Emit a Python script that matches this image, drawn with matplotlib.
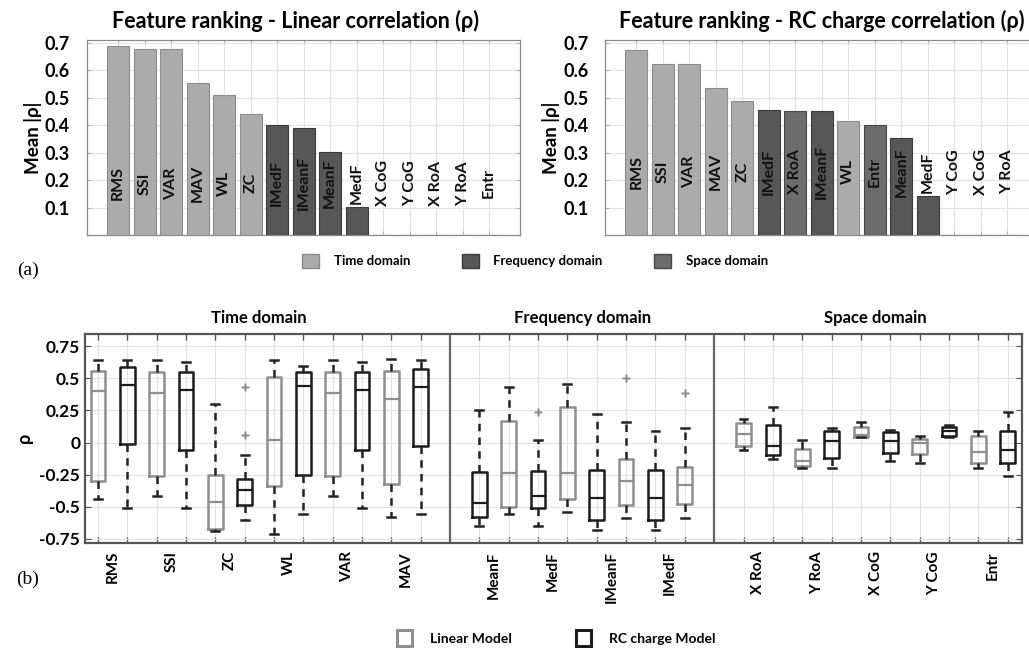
import matplotlib
matplotlib.use('Agg')
import matplotlib.pyplot as plt
from matplotlib.patches import Patch

plt.rcParams['font.family'] = ['Lato', 'DejaVu Sans']
plt.rcParams['font.weight'] = 'bold'

# ---------------- datos (a): ranking de features ----------------
feats_lin = ['RMS', 'SSI', 'VAR', 'MAV', 'WL', 'ZC', 'IMedF', 'IMeanF', 'MeanF', 'MedF',
             'X CoG', 'Y CoG', 'X RoA', 'Y RoA', 'Entr']
vals_lin = [0.688, 0.677, 0.677, 0.553, 0.509, 0.439, 0.402, 0.388, 0.303, 0.102,
            0, 0, 0, 0, 0]
dom_lin = ['T', 'T', 'T', 'T', 'T', 'T', 'F', 'F', 'F', 'F', 'S', 'S', 'S', 'S', 'S']

feats_rc = ['RMS', 'SSI', 'VAR', 'MAV', 'ZC', 'IMedF', 'X RoA', 'IMeanF', 'WL', 'Entr',
            'MeanF', 'MedF', 'Y CoG', 'X CoG', 'Y RoA']
vals_rc = [0.673, 0.624, 0.624, 0.534, 0.489, 0.455, 0.451, 0.451, 0.416, 0.402,
           0.355, 0.141, 0, 0, 0]
dom_rc = ['T', 'T', 'T', 'T', 'T', 'F', 'S', 'F', 'T', 'S', 'F', 'F', 'S', 'S', 'S']

dom_names = ['Time domain', 'Frequency domain', 'Space domain']
dom_keys = ['T', 'F', 'S']

# ---------------- datos (b): boxplots ----------------
feats_b = ['RMS', 'SSI', 'ZC', 'WL', 'VAR', 'MAV',
           'MeanF', 'MedF', 'IMeanF', 'IMedF',
           'X RoA', 'Y RoA', 'X CoG', 'Y CoG', 'Entr']
group_b = ['T'] * 6 + ['F'] * 4 + ['S'] * 5
rc_first = [False] * 6 + [True] * 4 + [False] * 5

lin_low = [-0.44, -0.42, -0.69, -0.71, -0.42, -0.58, -0.56, -0.54, -0.59, -0.59,
           -0.06, -0.20, 0.04, -0.16, -0.20]
lin_q1 = [-0.30, -0.26, -0.67, -0.34, -0.26, -0.32, -0.50, -0.44, -0.49, -0.48,
          -0.03, -0.18, 0.04, -0.09, -0.16]
lin_med = [0.40, 0.39, -0.46, 0.02, 0.39, 0.34, -0.24, -0.24, -0.30, -0.33,
           0.07, -0.14, 0.06, 0.00, -0.07]
lin_q3 = [0.56, 0.55, -0.25, 0.51, 0.55, 0.56, 0.17, 0.28, -0.13, -0.19,
          0.15, -0.05, 0.12, 0.03, 0.05]
lin_high = [0.64, 0.64, 0.30, 0.64, 0.64, 0.65, 0.43, 0.46, 0.16, 0.11,
            0.18, 0.02, 0.16, 0.05, 0.09]
lin_fliers = [[], [], [], [], [], [], [], [], [0.50], [0.39],
              [], [], [], [], []]

rc_low = [-0.51, -0.51, -0.60, -0.56, -0.51, -0.56, -0.65, -0.65, -0.68, -0.68,
          -0.13, -0.20, -0.14, 0.04, -0.26]
rc_q1 = [-0.01, -0.06, -0.49, -0.25, -0.06, -0.03, -0.58, -0.51, -0.60, -0.60,
         -0.10, -0.12, -0.08, 0.05, -0.16]
rc_med = [0.45, 0.41, -0.37, 0.44, 0.41, 0.43, -0.47, -0.42, -0.43, -0.43,
          -0.03, 0.01, 0.01, 0.09, -0.06]
rc_q3 = [0.59, 0.55, -0.28, 0.55, 0.55, 0.57, -0.23, -0.22, -0.21, -0.21,
         0.14, 0.09, 0.08, 0.12, 0.09]
rc_high = [0.64, 0.63, -0.10, 0.60, 0.63, 0.64, 0.25, 0.02, 0.22, 0.09,
           0.28, 0.11, 0.10, 0.14, 0.24]
rc_fliers = [[], [], [0.43, 0.06], [], [], [], [], [0.24], [], [],
             [], [], [], [], []]

y_ticks_b = [-0.75, -0.5, -0.25, 0, 0.25, 0.5, 0.75]
y_ticklabels_b = ['-0.75', '-0.5', '-0.25', '0', '0.25', '0.5', '0.75']

# ---------------- estilo ----------------
col_dom = {'T': '#ababab', 'F': '#575757', 'S': '#6c6c6c'}
edge_dom = {'T': '#8c8c8c', 'F': '#3c3c3c', 'S': '#474747'}
col_lin = '#8e8e8e'
col_rc = '#1c1c1c'
grid_col = '#e2e2e2'
spine_col = '#8a8a8a'

W, H = 1029, 650
fig = plt.figure(figsize=(W / 100, H / 100), dpi=100)


def px_axes(x0, x1, y0, y1):
    return fig.add_axes([x0 / W, 1 - y1 / H, (x1 - x0) / W, (y1 - y0) / H])


def bar_panel(ax, feats, vals, doms, title, ytxt, title_x):
    pos = list(range(1, len(feats) + 1))
    ax.bar(pos, vals, width=0.83, color=[col_dom[d] for d in doms],
           edgecolor=[edge_dom[d] for d in doms], linewidth=0.8, zorder=3)
    for p, f in zip(pos, feats):
        ax.text(p, ytxt, f, rotation=90, ha='center', va='center',
                fontsize=11.5, fontweight='bold', color='#111111', zorder=4)
    ax.set_xlim(-0.18, 16.16)
    ax.set_ylim(0, 0.71)
    ax.set_xticks(pos)
    ax.set_xticklabels([])
    ax.set_yticks([0.1, 0.2, 0.3, 0.4, 0.5, 0.6, 0.7])
    ax.set_yticklabels(['0.1', '0.2', '0.3', '0.4', '0.5', '0.6', '0.7'],
                       fontsize=13, fontweight='bold')
    ax.grid(True, color=grid_col, linewidth=0.8, zorder=0)
    ax.tick_params(direction='in', top=True, right=True, length=3,
                   color='#b0b0b0', pad=12)
    for s in ax.spines.values():
        s.set_color(spine_col)
        s.set_linewidth(0.9)
    ax.set_title(title, fontsize=15.5, fontweight='bold', pad=9, x=title_x)
    ax.set_ylabel('Mean |ρ|', fontsize=13.5, fontweight='bold')
    ax.yaxis.set_label_coords(-0.103, 0.5)


ax1 = px_axes(86.7, 520, 40, 235)
bar_panel(ax1, feats_lin, vals_lin, dom_lin,
          'Feature ranking - Linear correlation (ρ)', 0.188, 0.483)
ax2 = px_axes(605, 1038, 40, 235)
bar_panel(ax2, feats_rc, vals_rc, dom_rc,
          'Feature ranking - RC charge correlation (ρ)', 0.23, 0.5)

handles_a = [Patch(facecolor=col_dom[k], edgecolor=edge_dom[k], linewidth=1.0)
             for k in dom_keys]
fig.legend(handles_a, dom_names, loc='center', bbox_to_anchor=(535 / W, 1 - 261 / H),
           ncol=3, frameon=False, fontsize=9.5, handlelength=1.3, handleheight=1.3,
           columnspacing=3.9, handletextpad=1.1)

# ---------------- (b) boxplots ----------------
ax3 = px_axes(85, 1021.7, 334, 542.7)

start = {'T': 1, 'F': 14, 'S': 23}
count = {'T': 0, 'F': 0, 'S': 0}
box_pos = []
label_pos = []
for i, g in enumerate(group_b):
    p0 = start[g] + 2 * count[g]
    count[g] += 1
    label_pos.append(p0 + 0.5)
    if rc_first[i]:
        p_rc, p_lin = p0, p0 + 1
    else:
        p_lin, p_rc = p0, p0 + 1
    box_pos += [p0, p0 + 1]

    for model, pp, c in (('lin', p_lin, col_lin), ('rc', p_rc, col_rc)):
        if model == 'lin':
            st = dict(whislo=lin_low[i], q1=lin_q1[i], med=lin_med[i],
                      q3=lin_q3[i], whishi=lin_high[i], fliers=lin_fliers[i])
        else:
            st = dict(whislo=rc_low[i], q1=rc_q1[i], med=rc_med[i],
                      q3=rc_q3[i], whishi=rc_high[i], fliers=rc_fliers[i])
        ax3.bxp([st], positions=[pp], widths=0.5, showfliers=True,
                boxprops=dict(color=c, linewidth=1.8),
                medianprops=dict(color=c, linewidth=1.6),
                whiskerprops=dict(color='#222222', linewidth=1.8, linestyle=(0, (3, 2.5))),
                capprops=dict(color='#222222', linewidth=1.8),
                capwidths=0.27,
                flierprops=dict(marker='P', markersize=6, markerfacecolor='#8a8a8a',
                                markeredgecolor='none'),
                manage_ticks=False, zorder=3)

ax3.set_xlim(0.56, 32.48)
ax3.set_ylim(-0.78, 0.846)
ax3.set_xticks(box_pos)
ax3.set_xticklabels([])
ax3.set_xticks(label_pos, minor=True)
ax3.set_xticklabels(feats_b, minor=True, rotation=90, fontsize=11, fontweight='bold')
ax3.tick_params(axis='x', which='minor', length=0, pad=6)
ax3.tick_params(axis='x', which='major', direction='in', top=True, length=4,
                color='#555555', width=1)
ax3.set_yticks(y_ticks_b)
ax3.set_yticklabels(y_ticklabels_b, fontsize=12.5, fontweight='bold')
ax3.tick_params(axis='y', direction='in', right=True, length=4, color='#555555')
ax3.grid(True, which='major', color=grid_col, linewidth=0.8, zorder=0)
for s in ax3.spines.values():
    s.set_color('#555555')
    s.set_linewidth(1.6)
for xd in (13, 22):
    ax3.axvline(xd, color='#666666', linewidth=1.6, zorder=2)
ax3.set_ylabel('ρ', fontsize=13, fontweight='bold')
ax3.yaxis.set_label_coords(-0.0555, 0.5)

for g, name in zip(dom_keys, dom_names):
    n = group_b.count(g)
    xc = (start[g] + start[g] + 2 * n - 1) / 2
    ax3.text(xc, 1.04, name, transform=ax3.get_xaxis_transform(),
             ha='center', va='bottom', fontsize=12, fontweight='bold')

handles_b = [Patch(facecolor='white', edgecolor=col_lin, linewidth=2.2),
             Patch(facecolor='white', edgecolor=col_rc, linewidth=2.2)]
fig.legend(handles_b, ['Linear Model', 'RC charge Model'], loc='center',
           bbox_to_anchor=(556 / W, 1 - 638 / H), ncol=2, frameon=False,
           fontsize=10, handlelength=1.1, handleheight=1.3,
           columnspacing=4.6, handletextpad=1.3)

fig.text(28 / W, 1 - 270 / H, '(a)', fontsize=14, fontweight='normal',
         family='Liberation Serif', ha='center', va='center')
fig.text(28 / W, 1 - 579 / H, '(b)', fontsize=14, fontweight='normal',
         family='Liberation Serif', ha='center', va='center')

fig.savefig('out.png', dpi=100)
